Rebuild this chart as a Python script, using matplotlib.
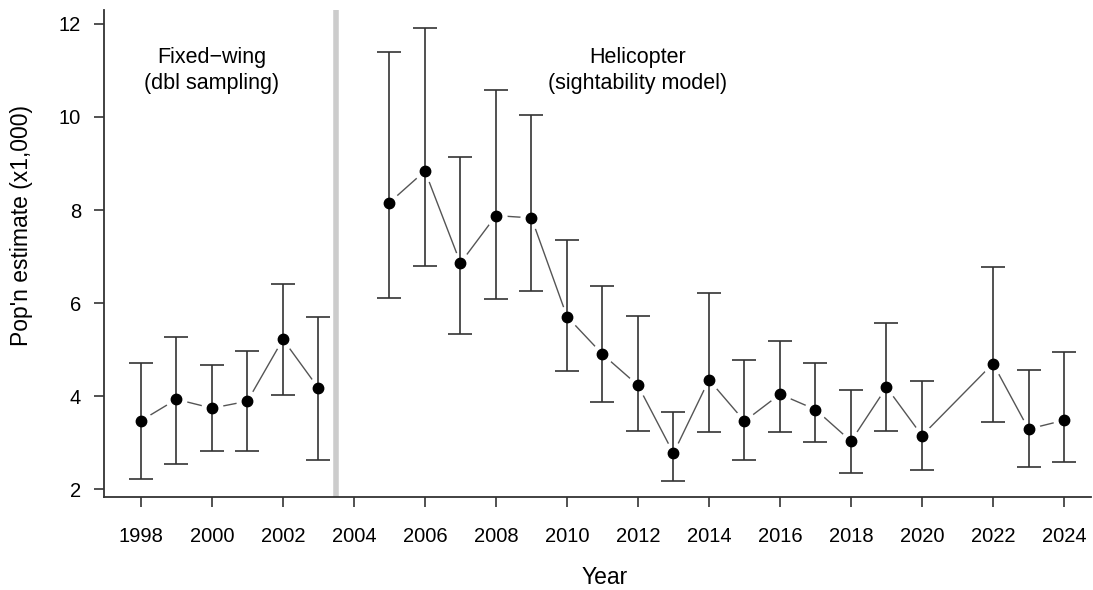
import matplotlib.pyplot as plt
import numpy as np

# > Data (population estimate, thousands)
fw_years = np.array([1998, 1999, 2000, 2001, 2002, 2003])
fw_est = np.array([3.47, 3.93, 3.74, 3.89, 5.22, 4.17])
fw_lo = np.array([2.22, 2.55, 2.81, 2.81, 4.03, 2.62])
fw_hi = np.array([4.72, 5.28, 4.67, 4.97, 6.42, 5.70])

heli_years = np.array([2005, 2006, 2007, 2008, 2009, 2010, 2011, 2012, 2013, 2014,
                       2015, 2016, 2017, 2018, 2019, 2020, 2022, 2023, 2024])
heli_est = np.array([8.16, 8.84, 6.86, 7.88, 7.83, 5.71, 4.90, 4.23, 2.77, 4.35,
                     3.46, 4.04, 3.71, 3.03, 4.19, 3.15, 4.70, 3.29, 3.48])
heli_lo = np.array([6.10, 6.80, 5.33, 6.08, 6.26, 4.54, 3.88, 3.25, 2.18, 3.23,
                    2.62, 3.23, 3.02, 2.34, 3.25, 2.41, 3.44, 2.48, 2.58])
heli_hi = np.array([11.39, 11.91, 9.13, 10.57, 10.04, 7.35, 6.37, 5.73, 3.65, 6.22,
                    4.77, 5.19, 4.72, 4.14, 5.58, 4.32, 6.78, 4.56, 4.95])

x_ticks = np.arange(1998, 2025, 2)
y_ticks = [2, 4, 6, 8, 10, 12]

plt.rcParams["font.family"] = ["Liberation Sans", "DejaVu Sans"]

fig = plt.figure(figsize=(10.93, 5.9), dpi=100)
ax = fig.add_axes([104 / 1093, 1 - 497 / 590, (1091 - 104) / 1093, (497 - 10) / 590])


def draw_series(years, est, lo, hi):
    # R-style type="b": line with gaps around the points
    ax.plot(years, est, color="#555555", lw=1.0, zorder=1)
    ax.plot(years, est, "o", ms=16, mfc="white", mec="none", zorder=2)
    ax.errorbar(years, est, yerr=[est - lo, hi - est], fmt="none",
                ecolor="#333333", elinewidth=1.2, capsize=8.7, capthick=1.2, zorder=3)
    ax.plot(years, est, "o", ms=7.5, color="black", zorder=4)


draw_series(fw_years, fw_est, fw_lo, fw_hi)
draw_series(heli_years, heli_est, heli_lo, heli_hi)

# Survey method change
ax.axvline(2003.5, color="#cccccc", lw=4, zorder=0)

ax.text(2000, 11.0, "Fixed\u2212wing\n(dbl sampling)", ha="center", va="center",
        fontsize=15.5, linespacing=1.3)
ax.text(2012, 11.0, "Helicopter\n(sightability model)", ha="center", va="center",
        fontsize=15.5, linespacing=1.3)

ax.set_xlim(1996.96, 2024.76)
ax.set_ylim(1.83, 12.30)
ax.set_xticks(x_ticks)
ax.set_yticks(y_ticks)
ax.tick_params(axis="both", labelsize=14.5, length=7.5, width=1.2, color="#333333")
ax.tick_params(axis="x", pad=14)
ax.tick_params(axis="y", pad=9)

for side in ["top", "right"]:
    ax.spines[side].set_visible(False)
for side in ["left", "bottom"]:
    ax.spines[side].set_color("#333333")
    ax.spines[side].set_linewidth(1.3)

fig.text(605 / 1093, 1 - 578 / 590, "Year", ha="center", va="center", fontsize=16.5)
fig.text(22 / 1093, 1 - 226 / 590, "Pop'n estimate (x1,000)", ha="center", va="center",
         rotation=90, fontsize=16.5)

plt.savefig("out.png", dpi=100)
